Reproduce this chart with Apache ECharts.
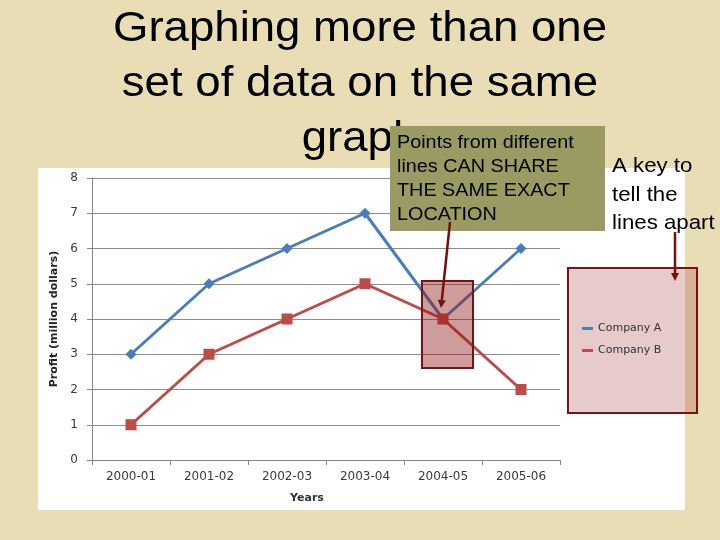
<!DOCTYPE html>
<html>
<head>
    <meta charset="UTF-8">
    <script src="https://cdn.jsdelivr.net/npm/echarts@6/dist/echarts.min.js"></script>
    <title>Graphing more than one set of data</title>
    <style>
        html, body { margin: 0; padding: 0; background: #e9ddb6; }
        #chart { width: 720px; height: 540px; }
    </style>
</head>
<body>
    <div id="chart"></div>
<script>
    // data
    const years = ['2000-01', '2001-02', '2002-03', '2003-04', '2004-05', '2005-06'];
    const companyA = [3, 5, 6, 7, 4, 6];
    const companyB = [1, 3, 4, 5, 4, 2];
    const yTicks = { min: 0, max: 8, interval: 1 };

    const titleLines = ['Graphing more than one', 'set of data on the same', 'graph'];
    const noteLines = ['Points from different', 'lines CAN SHARE', 'THE SAME EXACT', 'LOCATION'];
    const keyLines = ['A key to', 'tell the', 'lines apart'];

    const arrowColor = '#7a0e0e';
    const chartFont = 'DejaVu Sans, Verdana, sans-serif';

    function arrow(x1, y1, x2, y2) {
        // shaft + little head
        const ang = Math.atan2(y2 - y1, x2 - x1);
        const hl = 8, hw = 4;
        const bx = x2 - hl * Math.cos(ang), by = y2 - hl * Math.sin(ang);
        const px = -Math.sin(ang) * hw, py = Math.cos(ang) * hw;
        return [{
            type: 'polyline', z: 120,
            shape: { points: [[x1, y1], [bx, by]] },
            style: { stroke: arrowColor, lineWidth: 2.5, fill: null }
        }, {
            type: 'polygon', z: 120,
            shape: { points: [[x2, y2], [bx + px, by + py], [bx - px, by - py]] },
            style: { fill: arrowColor }
        }];
    }

    var chart = echarts.init(document.getElementById('chart'));

    var option = {
        backgroundColor: '#e9ddb6',
        animation: false,
        grid: { left: 92, right: 160, top: 178, bottom: 80 },
        legend: {
            orient: 'vertical',
            left: 577,
            top: 318,
            itemWidth: 11,
            itemHeight: 3,
            itemGap: 11,
            icon: 'rect',
            z: 130,
            textStyle: { fontFamily: chartFont, fontSize: 11, color: '#333' },
            data: ['Company A', 'Company B']
        },
        xAxis: {
            type: 'category',
            data: years,
            boundaryGap: true,
            name: 'Years',
            nameLocation: 'middle',
            nameGap: 33,
            nameTextStyle: {
                fontFamily: chartFont,
                fontSize: 11, fontWeight: 'bold', color: '#333',
                padding: [0, 38, 0, 0]
            },
            axisLine: { lineStyle: { color: '#868686', width: 1 } },
            axisTick: { show: true, length: 5, lineStyle: { color: '#868686' } },
            axisLabel: { margin: 11, fontFamily: chartFont, fontSize: 12, color: '#3a3a3a' }
        },
        yAxis: {
            type: 'value',
            min: yTicks.min,
            max: yTicks.max,
            interval: yTicks.interval,
            name: 'Profit (million dollars)',
            nameLocation: 'middle',
            nameGap: 32,
            nameTextStyle: {
                fontFamily: chartFont,
                fontSize: 11, fontWeight: 'bold', color: '#222'
            },
            axisLine: { show: true, lineStyle: { color: '#868686', width: 1 } },
            axisTick: { show: true, length: 5, lineStyle: { color: '#868686' } },
            axisLabel: { margin: 14, fontFamily: chartFont, fontSize: 12, color: '#3a3a3a' },
            splitLine: { lineStyle: { color: '#8c8c8c', width: 1 } }
        },
        series: [{
            name: 'Company A',
            type: 'line',
            data: companyA,
            symbol: 'diamond',
            symbolSize: 11,
            itemStyle: { color: '#4a7ebb' },
            lineStyle: { color: '#4a7ebb', width: 3 },
            z: 3
        }, {
            name: 'Company B',
            type: 'line',
            data: companyB,
            symbol: 'rect',
            symbolSize: 11,
            itemStyle: { color: '#be4b48' },
            lineStyle: { color: '#be4b48', width: 3 },
            z: 4
        }],
        graphic: [
            // white chart panel
            {
                type: 'rect', z: -10, silent: true,
                shape: { x: 38, y: 168, width: 647, height: 342 },
                style: { fill: '#ffffff' }
            },
            // slide title
            {
                type: 'text', z: 50, x: 360, y: 2, scaleX: 1.06,
                style: {
                    text: titleLines.join('\n'),
                    font: '43px "Liberation Sans", Arial, sans-serif',
                    lineHeight: 55,
                    align: 'center',
                    verticalAlign: 'top',
                    fill: '#000'
                }
            },
            // green note box
            {
                type: 'rect', z: 100,
                shape: { x: 390, y: 126, width: 215, height: 105 },
                style: { fill: '#9a9b62' }
            },
            {
                type: 'text', z: 101, x: 397, y: 131, scaleX: 1.1,
                style: {
                    text: noteLines.join('\n'),
                    font: '18px "Liberation Sans", Arial, sans-serif',
                    lineHeight: 24,
                    verticalAlign: 'top',
                    fill: '#000'
                }
            },
            // key text
            {
                type: 'text', z: 101, x: 612, y: 152, scaleX: 1.06,
                style: {
                    text: keyLines.join('\n'),
                    font: '21px "Liberation Sans", Arial, sans-serif',
                    lineHeight: 28.5,
                    verticalAlign: 'top',
                    fill: '#000'
                }
            },
            // highlight on shared point
            {
                type: 'rect', z: 110,
                shape: { x: 422, y: 281, width: 51, height: 87 },
                style: { fill: 'rgba(140,20,20,0.42)', stroke: '#7a1212', lineWidth: 2 }
            },
            // legend box
            {
                type: 'rect', z: 110,
                shape: { x: 568, y: 268, width: 129, height: 145 },
                style: { fill: 'rgba(159,47,47,0.25)', stroke: '#7a1212', lineWidth: 2 }
            }
        ].concat(arrow(450, 222, 441, 308), arrow(675, 232, 675, 281))
    };

    chart.setOption(option);
</script>
</body>
</html>
